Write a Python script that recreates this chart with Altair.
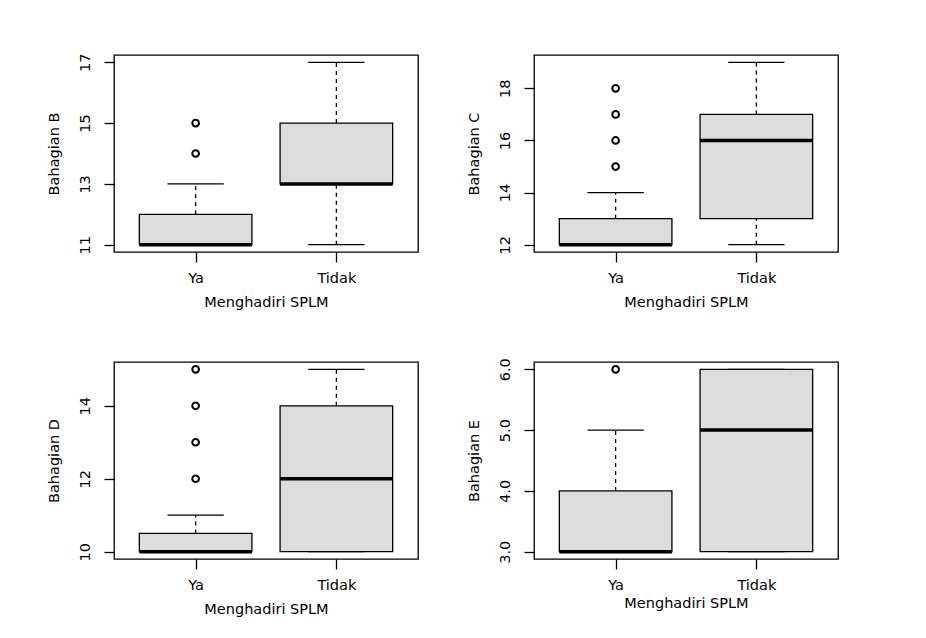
import altair as alt
import pandas as pd

groups = ["Ya", "Tidak"]
panel_titles = ["Bahagian B", "Bahagian C", "Bahagian D", "Bahagian E"]
x_title = "Menghadiri SPLM"

# five-number summaries per panel, [Ya, Tidak]
whisker_low = [[11, 11], [12, 12], [10, 10], [3, 3]]
q1 = [[11, 13], [12, 13], [10, 10], [3, 3]]
median = [[11, 13], [12, 16], [10, 12], [3, 5]]
q3 = [[12, 15], [13, 17], [10.5, 14], [4, 6]]
whisker_high = [[13, 17], [14, 19], [11, 15], [5, 6]]
outliers = [[[14, 15], []], [[15, 16, 17, 18], []], [[12, 13, 14, 15], []], [[6], []]]

# axis tick positions and labelled ticks
tick_values = [
    [11, 12, 13, 14, 15, 16, 17],
    [12, 13, 14, 15, 16, 17, 18, 19],
    [10, 11, 12, 13, 14, 15],
    [3.0, 3.5, 4.0, 4.5, 5.0, 5.5, 6.0],
]
label_values = [[11, 13, 15, 17], [12, 14, 16, 18], [10, 12, 14], [3, 4, 5, 6]]
label_formats = ["d", "d", "d", ".1f"]
x_title_pad = [11, 11, 11, 5]

FONT = "DejaVu Sans"
FS = 14.5
BOX_HALF = 0.4
CAP_HALF = 0.2
FILL = "#dcdcdc"
LW = 1.3

label_expr_x = "[" + ",".join("'%s'" % g for g in groups) + "][datum.value - 1]"


def make_panel(i):
    rows = []
    for j, g in enumerate(groups):
        pos = j + 1
        rows.append(dict(group=g, pos=pos, left=pos - BOX_HALF, right=pos + BOX_HALF,
                         cl=pos - CAP_HALF, cr=pos + CAP_HALF,
                         lo=whisker_low[i][j], q1=q1[i][j], med=median[i][j],
                         q3=q3[i][j], hi=whisker_high[i][j]))
    df = pd.DataFrame(rows)
    orows = []
    for j, g in enumerate(groups):
        for v in outliers[i][j]:
            orows.append(dict(group=g, pos=j + 1, value=v))
    odf = pd.DataFrame(orows, columns=["group", "pos", "value"])

    allvals = []
    for j in range(len(groups)):
        allvals += [whisker_low[i][j], whisker_high[i][j]] + outliers[i][j]
    lo, hi = min(allvals), max(allvals)
    ext = (hi - lo) * 0.04
    ydom = [lo - ext, hi + ext]

    lv = label_values[i]
    yexpr = "indexof(" + str(lv) + ", datum.value) >= 0 ? format(datum.value, '" + label_formats[i] + "') : ''"

    xscale = alt.Scale(domain=[0.42, len(groups) + 0.58], nice=False, zero=False)
    yscale = alt.Scale(domain=ydom, nice=False, zero=False)
    xaxis = alt.Axis(values=list(range(1, len(groups) + 1)), labelExpr=label_expr_x,
                     title=x_title, domain=False, grid=False, tickSize=10,
                     labelPadding=9, titlePadding=x_title_pad[i], labelAngle=0)
    yaxis = alt.Axis(values=tick_values[i], labelExpr=yexpr, title=panel_titles[i],
                     domain=False, grid=False, tickSize=10, labelAngle=-90,
                     labelAlign="center", labelBaseline="bottom", labelPadding=12,
                     titlePadding=16)

    base = alt.Chart(df)
    whisk_up = base.mark_rule(color="black", strokeWidth=LW, strokeDash=[4, 4]).encode(
        x=alt.X("pos:Q", scale=xscale, axis=xaxis),
        y=alt.Y("q3:Q", scale=yscale, axis=yaxis),
        y2="hi:Q",
    )
    whisk_dn = base.mark_rule(color="black", strokeWidth=LW, strokeDash=[4, 4]).encode(
        x="pos:Q", y="lo:Q", y2="q1:Q"
    )
    box = base.mark_rect(fill=FILL, stroke="black", strokeWidth=LW).encode(
        x="left:Q", x2="right:Q", y="q1:Q", y2="q3:Q"
    )
    med = base.mark_rule(color="black", strokeWidth=3.5).encode(
        x="left:Q", x2="right:Q", y="med:Q"
    )
    cap_hi = base.mark_rule(color="black", strokeWidth=LW).encode(
        x="cl:Q", x2="cr:Q", y="hi:Q"
    )
    cap_lo = base.mark_rule(color="black", strokeWidth=LW).encode(
        x="cl:Q", x2="cr:Q", y="lo:Q"
    )
    pts = alt.Chart(odf).mark_point(shape="circle", filled=False, color="black",
                                    strokeWidth=2, size=45, opacity=1).encode(
        x="pos:Q", y="value:Q"
    )
    return alt.layer(whisk_up, whisk_dn, box, med, cap_hi, cap_lo, pts).properties(
        width=304, height=197
    )


chart = alt.concat(
    *[make_panel(i) for i in range(4)],
    columns=2,
    spacing={"row": 110, "column": 116},
    bounds="flush",
).properties(
    padding={"left": 37, "top": 44, "right": 5, "bottom": 5},
    background="white",
).configure_view(
    stroke="black", strokeWidth=LW
).configure_axis(
    labelFont=FONT, titleFont=FONT, labelFontSize=FS, titleFontSize=FS,
    labelColor="black", titleColor="black", tickColor="black", tickWidth=LW,
    titleFontWeight="normal",
)

chart.save("out.html", embed_options={"renderer": "svg", "actions": False})
